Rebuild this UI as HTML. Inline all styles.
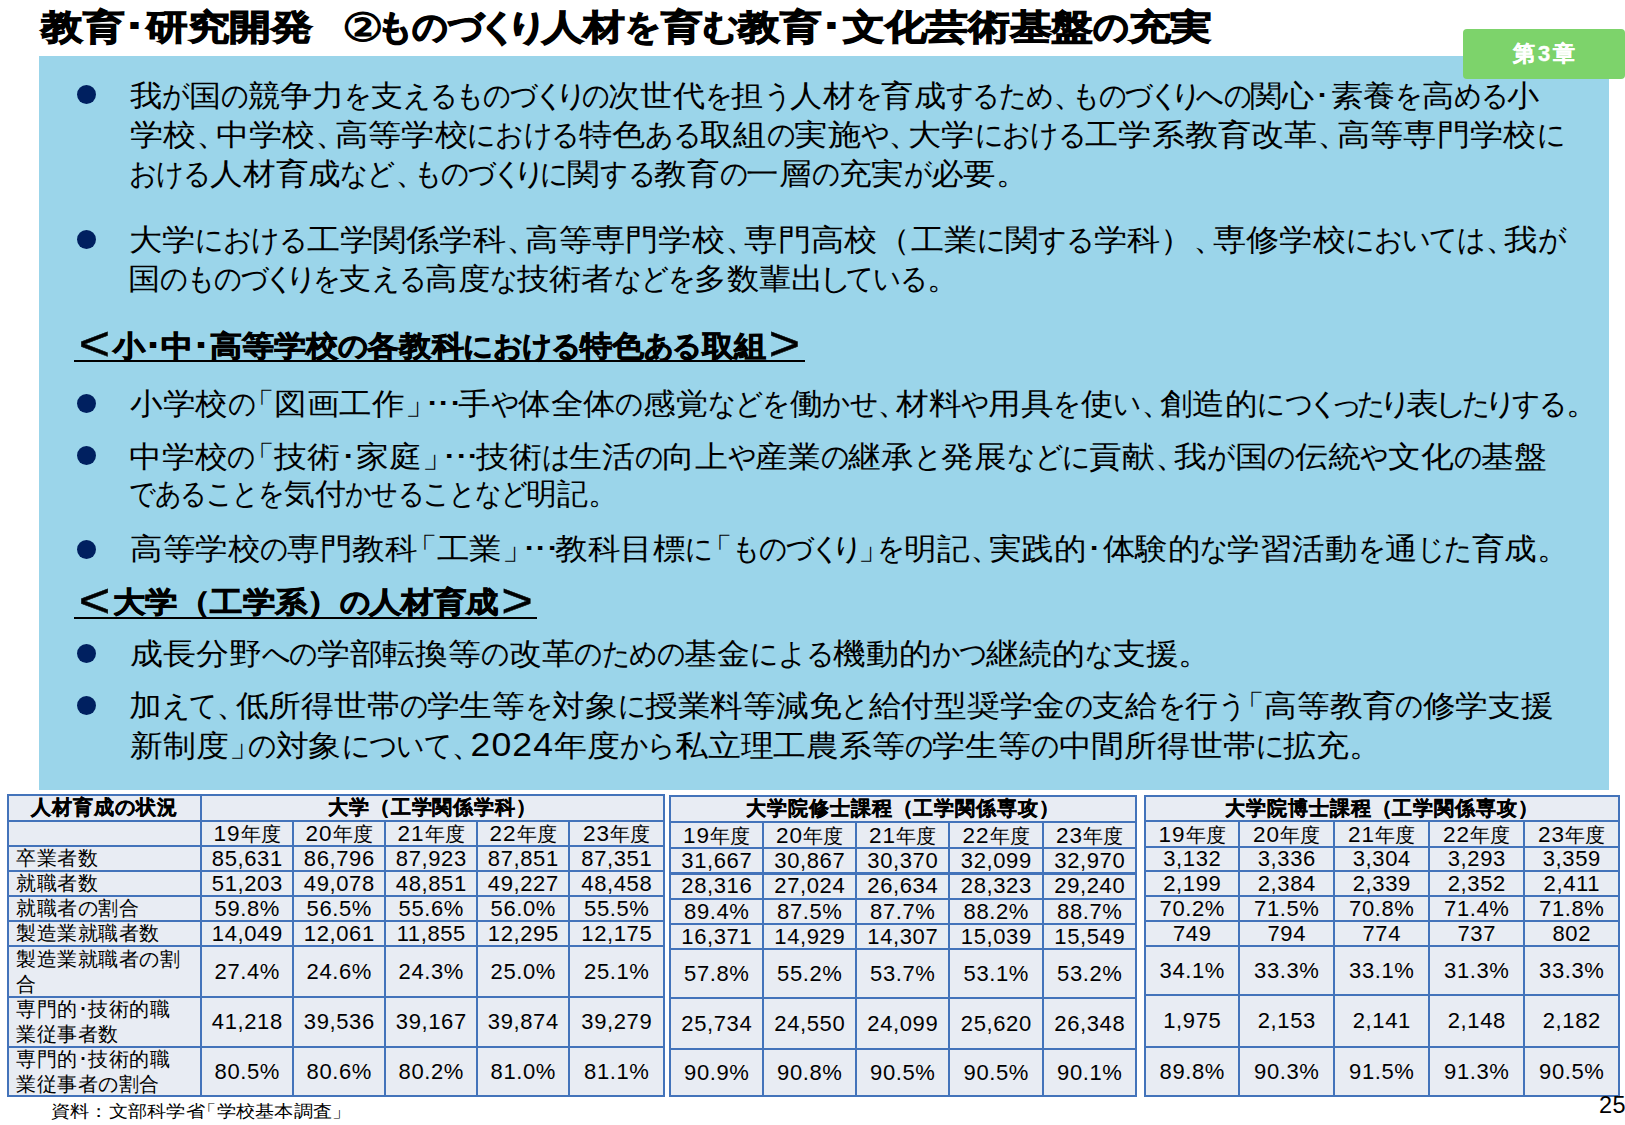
<!DOCTYPE html><html><head><meta charset="utf-8"><style>
*{margin:0;padding:0;box-sizing:border-box}
html,body{width:1625px;height:1125px;overflow:hidden;background:#fff}
body{position:relative;font-family:"Liberation Sans",sans-serif;color:#000}
.t{position:absolute;white-space:nowrap;transform-origin:0 0;line-height:1}
.box{position:absolute;left:39px;top:56px;width:1570px;height:734px;background:#9BD5EA}
.badge{position:absolute;left:1463px;top:29px;width:162px;height:50px;background:#7DD36B;border-radius:4px}
.dot{position:absolute;width:19px;height:19px;border-radius:50%;background:#002060}
.ul{position:absolute;height:2px;background:#000}
.hl{position:absolute;background:#4373BA}
.cell{position:absolute;background:#E8ECF3}
.c{position:absolute;display:flex;align-items:center;justify-content:center;white-space:nowrap;line-height:1}
.hd{font-weight:bold;font-size:19.5px;letter-spacing:0.9px;-webkit-text-stroke:0.4px #000}
.yd{font-weight:normal;font-size:22.5px;letter-spacing:1px}
.yr{font-size:19.5px}
.dt{font-size:22px;letter-spacing:0.6px;padding-left:0.6px}
.lb{position:absolute;display:flex;flex-direction:column;justify-content:center;font-size:20px;letter-spacing:0.5px;line-height:25px;white-space:nowrap}
.badge span{position:absolute;left:0;right:0;top:0;bottom:0;display:flex;align-items:center;justify-content:center;color:#fff;font-weight:bold;font-size:22px;letter-spacing:3px;padding-left:3px;-webkit-text-stroke:0.4px #fff}
i{font-style:normal;display:inline-block;transform-origin:0 50%}.k{width:0.850em;transform:scaleX(0.850)}.kn{width:0.700em;text-indent:-0.150em}.p,.bc{width:0.600em}.bo{width:0.600em;text-indent:-0.400em}.bold{font-weight:bold;-webkit-text-stroke:1.20px #000}.bold .cn{-webkit-text-stroke:0}.is{letter-spacing:-0.3em}.el{letter-spacing:-0.15em}#h1 .k,#h2 .k{width:0.92em;transform:scaleX(0.92)}.cn{margin-right:-0.15em;font-size:1.12em;vertical-align:-0.06em;line-height:0}.as{font-size:1.1em;letter-spacing:0.03em}.lt{font-size:1.7em;font-weight:normal;-webkit-text-stroke:0.5px #000;line-height:0;vertical-align:-0.1em;margin:0 0.05em}</style></head><body>
<div class="box"></div>
<div class="badge"><span>第3章</span></div>
<div class="dot" style="left:76.5px;top:85.3px"></div>
<div class="dot" style="left:76.5px;top:230.4px"></div>
<div class="dot" style="left:76.5px;top:394.4px"></div>
<div class="dot" style="left:76.5px;top:446.3px"></div>
<div class="dot" style="left:76.5px;top:539.5px"></div>
<div class="dot" style="left:76.5px;top:644.2px"></div>
<div class="dot" style="left:76.5px;top:696.0px"></div>
<div class="ul" style="left:74px;top:360.2px;width:731px"></div>
<div class="ul" style="left:74px;top:616.5px;width:463px"></div>
<div class="t bold" id="title" style="left:40.75px;top:9.00px;font-size:35.00px;transform:scaleX(1.1925);-webkit-text-stroke:1.10px #000">教育･研究開発<span class="is">　</span><span class="cn">②</span><i class="k">も</i><i class="k">の</i><i class="k">づ</i><i class="kn">く</i><i class="kn">り</i>人材<i class="k">を</i>育<i class="k">む</i>教育･文化芸術基盤<i class="k">の</i>充実</div>
<div class="t" id="l1" style="left:130.49px;top:81.20px;font-size:29.50px;transform:scaleX(1.0704)">我<i class="k">が</i>国<i class="k">の</i>競争力<i class="k">を</i>支<i class="k">え</i><i class="k">る</i><i class="k">も</i><i class="k">の</i><i class="k">づ</i><i class="kn">く</i><i class="kn">り</i><i class="k">の</i>次世代<i class="k">を</i>担<i class="k">う</i>人材<i class="k">を</i>育成<i class="k">す</i><i class="k">る</i><i class="k">た</i><i class="k">め</i><i class="p">、</i><i class="k">も</i><i class="k">の</i><i class="k">づ</i><i class="kn">く</i><i class="kn">り</i><i class="k">へ</i><i class="k">の</i>関心･素養<i class="k">を</i>高<i class="k">め</i><i class="k">る</i>小</div>
<div class="t" id="l2" style="left:130.40px;top:120.00px;font-size:29.50px;transform:scaleX(1.1058)">学校<i class="p">、</i>中学校<i class="p">、</i>高等学校<i class="k">に</i><i class="k">お</i><i class="k">け</i><i class="k">る</i>特色<i class="k">あ</i><i class="k">る</i>取組<i class="k">の</i>実施<i class="k">や</i><i class="p">、</i>大学<i class="k">に</i><i class="k">お</i><i class="k">け</i><i class="k">る</i>工学系教育改革<i class="p">、</i>高等専門学校<i class="k">に</i></div>
<div class="t" id="l3" style="left:129.38px;top:159.00px;font-size:29.50px;transform:scaleX(1.0837)"><i class="k">お</i><i class="k">け</i><i class="k">る</i>人材育成<i class="k">な</i><i class="k">ど</i><i class="p">、</i><i class="k">も</i><i class="k">の</i><i class="k">づ</i><i class="kn">く</i><i class="kn">り</i><i class="k">に</i>関<i class="k">す</i><i class="k">る</i>教育<i class="k">の</i>一層<i class="k">の</i>充実<i class="k">が</i>必要<i class="p">。</i></div>
<div class="t" id="l4" style="left:129.29px;top:225.30px;font-size:29.50px;transform:scaleX(1.1077)">大学<i class="k">に</i><i class="k">お</i><i class="k">け</i><i class="k">る</i>工学関係学科<i class="p">、</i>高等専門学校<i class="p">、</i>専門高校（工業<i class="k">に</i>関<i class="k">す</i><i class="k">る</i>学科）<i class="p">、</i>専修学校<i class="k">に</i><i class="k">お</i><i class="k">い</i><i class="k">て</i><i class="k">は</i><i class="p">、</i>我<i class="k">が</i></div>
<div class="t" id="l5" style="left:128.37px;top:264.00px;font-size:29.50px;transform:scaleX(1.0750)">国<i class="k">の</i><i class="k">も</i><i class="k">の</i><i class="k">づ</i><i class="kn">く</i><i class="kn">り</i><i class="k">を</i>支<i class="k">え</i><i class="k">る</i>高度<i class="k">な</i>技術者<i class="k">な</i><i class="k">ど</i><i class="k">を</i>多数輩出<i class="kn">し</i><i class="k">て</i><i class="k">い</i><i class="k">る</i><i class="p">。</i></div>
<div class="t bold" id="h1" style="left:75.51px;top:331.60px;font-size:28.50px;transform:scaleX(1.1065);-webkit-text-stroke:0.80px #000"><span class="lt">&lt;</span>小･中･高等学校<i class="k">の</i>各教科<i class="k">に</i><i class="k">お</i><i class="k">け</i><i class="k">る</i>特色<i class="k">あ</i><i class="k">る</i>取組<span class="lt">&gt;</span></div>
<div class="t" id="l7" style="left:130.45px;top:389.40px;font-size:29.50px;transform:scaleX(1.0861)">小学校<i class="k">の</i><i class="bo">「</i>図画工作<i class="bc">」</i><span class="el">･･･</span>手<i class="k">や</i>体全体<i class="k">の</i>感覚<i class="k">な</i><i class="k">ど</i><i class="k">を</i>働<i class="k">か</i><i class="k">せ</i><i class="p">、</i>材料<i class="k">や</i>用具<i class="k">を</i>使<i class="k">い</i><i class="p">、</i>創造的<i class="k">に</i><i class="k">つ</i><i class="kn">く</i><i class="kn">っ</i><i class="k">た</i><i class="kn">り</i>表<i class="kn">し</i><i class="k">た</i><i class="kn">り</i><i class="k">す</i><i class="k">る</i><i class="p">。</i></div>
<div class="t" id="l8" style="left:129.33px;top:442.20px;font-size:29.50px;transform:scaleX(1.0942)">中学校<i class="k">の</i><i class="bo">「</i>技術･家庭<i class="bc">」</i><span class="el">･･･</span>技術<i class="k">は</i>生活<i class="k">の</i>向上<i class="k">や</i>産業<i class="k">の</i>継承<i class="k">と</i>発展<i class="k">な</i><i class="k">ど</i><i class="k">に</i>貢献<i class="p">、</i>我<i class="k">が</i>国<i class="k">の</i>伝統<i class="k">や</i>文化<i class="k">の</i>基盤</div>
<div class="t" id="l9" style="left:129.44px;top:479.00px;font-size:29.50px;transform:scaleX(1.0295)"><i class="k">で</i><i class="k">あ</i><i class="k">る</i><i class="k">こ</i><i class="k">と</i><i class="k">を</i>気付<i class="k">か</i><i class="k">せ</i><i class="k">る</i><i class="k">こ</i><i class="k">と</i><i class="k">な</i><i class="k">ど</i>明記<i class="p">。</i></div>
<div class="t" id="l10" style="left:130.44px;top:534.30px;font-size:29.50px;transform:scaleX(1.0845)">高等学校<i class="k">の</i>専門教科<i class="bo">「</i>工業<i class="bc">」</i><span class="el">･･･</span>教科目標<i class="k">に</i><i class="bo">「</i><i class="k">も</i><i class="k">の</i><i class="k">づ</i><i class="kn">く</i><i class="kn">り</i><i class="bc">」</i><i class="k">を</i>明記<i class="p">、</i>実践的･体験的<i class="k">な</i>学習活動<i class="k">を</i>通<i class="k">じ</i><i class="k">た</i>育成<i class="p">。</i></div>
<div class="t bold" id="h2" style="left:75.56px;top:588.00px;font-size:28.50px;transform:scaleX(1.1166);-webkit-text-stroke:0.80px #000"><span class="lt">&lt;</span>大学（工学系）<i class="k">の</i>人材育成<span class="lt">&gt;</span></div>
<div class="t" id="l12" style="left:130.41px;top:639.30px;font-size:29.50px;transform:scaleX(1.0969)">成長分野<i class="k">へ</i><i class="k">の</i>学部転換等<i class="k">の</i>改革<i class="k">の</i><i class="k">た</i><i class="k">め</i><i class="k">の</i>基金<i class="k">に</i><i class="k">よ</i><i class="k">る</i>機動的<i class="k">か</i><i class="k">つ</i>継続的<i class="k">な</i>支援<i class="p">。</i></div>
<div class="t" id="l13" style="left:129.34px;top:691.00px;font-size:29.50px;transform:scaleX(1.0908)">加<i class="k">え</i><i class="k">て</i><i class="p">、</i>低所得世帯<i class="k">の</i>学生等<i class="k">を</i>対象<i class="k">に</i>授業料等減免<i class="k">と</i>給付型奨学金<i class="k">の</i>支給<i class="k">を</i>行<i class="k">う</i><i class="bo">「</i>高等教育<i class="k">の</i>修学支援</div>
<div class="t" id="l14" style="left:130.40px;top:728.60px;font-size:29.50px;transform:scaleX(1.0963)">新制度<i class="bc">」</i><i class="k">の</i>対象<i class="k">に</i><i class="k">つ</i><i class="k">い</i><i class="k">て</i><i class="p">、</i><span class="as">2</span><span class="as">0</span><span class="as">2</span><span class="as">4</span>年度<i class="k">か</i><i class="k">ら</i>私立理工農系等<i class="k">の</i>学生等<i class="k">の</i>中間所得世帯<i class="k">に</i>拡充<i class="p">。</i></div>
<div class="t" id="foot" style="left:50.72px;top:1102.80px;font-size:17.00px;transform:scaleX(1.1322)">資料：文部科学省<i class="bo">「</i>学校基本調査<i class="bc">」</i></div>
<div class="cell" style="left:7px;top:794px;width:658px;height:303px"></div>
<div class="hl" style="left:7px;top:794px;width:658px;height:2px"></div>
<div class="hl" style="left:7px;top:820px;width:658px;height:2px"></div>
<div class="hl" style="left:7px;top:845px;width:658px;height:2px"></div>
<div class="hl" style="left:7px;top:870px;width:658px;height:2px"></div>
<div class="hl" style="left:7px;top:895px;width:658px;height:2px"></div>
<div class="hl" style="left:7px;top:920px;width:658px;height:2px"></div>
<div class="hl" style="left:7px;top:945px;width:658px;height:2px"></div>
<div class="hl" style="left:7px;top:996px;width:658px;height:2px"></div>
<div class="hl" style="left:7px;top:1046px;width:658px;height:2px"></div>
<div class="hl" style="left:7px;top:1095px;width:658px;height:2px"></div>
<div class="hl" style="left:7px;top:794px;width:2px;height:303px"></div>
<div class="hl" style="left:200px;top:794px;width:2px;height:303px"></div>
<div class="hl" style="left:292px;top:820px;width:2px;height:277px"></div>
<div class="hl" style="left:384px;top:820px;width:2px;height:277px"></div>
<div class="hl" style="left:476px;top:820px;width:2px;height:277px"></div>
<div class="hl" style="left:568px;top:820px;width:2px;height:277px"></div>
<div class="hl" style="left:663px;top:794px;width:2px;height:303px"></div>
<div class="c hd" style="left:202px;top:796px;width:461px;height:24px">大学（工学関係学科）</div>
<div class="c hd" style="left:9px;top:796px;width:191px;height:24px">人材育成の状況</div>
<div class="c yr" style="left:202px;top:823px;width:90px;height:23px"><span><b class="yd">19</b>年度</span></div>
<div class="c yr" style="left:294px;top:823px;width:90px;height:23px"><span><b class="yd">20</b>年度</span></div>
<div class="c yr" style="left:386px;top:823px;width:90px;height:23px"><span><b class="yd">21</b>年度</span></div>
<div class="c yr" style="left:478px;top:823px;width:90px;height:23px"><span><b class="yd">22</b>年度</span></div>
<div class="c yr" style="left:570px;top:823px;width:93px;height:23px"><span><b class="yd">23</b>年度</span></div>
<div class="c dt" style="left:202px;top:847px;width:90px;height:23px"><span>85,631</span></div>
<div class="c dt" style="left:294px;top:847px;width:90px;height:23px"><span>86,796</span></div>
<div class="c dt" style="left:386px;top:847px;width:90px;height:23px"><span>87,923</span></div>
<div class="c dt" style="left:478px;top:847px;width:90px;height:23px"><span>87,851</span></div>
<div class="c dt" style="left:570px;top:847px;width:93px;height:23px"><span>87,351</span></div>
<div class="c dt" style="left:202px;top:872px;width:90px;height:23px"><span>51,203</span></div>
<div class="c dt" style="left:294px;top:872px;width:90px;height:23px"><span>49,078</span></div>
<div class="c dt" style="left:386px;top:872px;width:90px;height:23px"><span>48,851</span></div>
<div class="c dt" style="left:478px;top:872px;width:90px;height:23px"><span>49,227</span></div>
<div class="c dt" style="left:570px;top:872px;width:93px;height:23px"><span>48,458</span></div>
<div class="c dt" style="left:202px;top:897px;width:90px;height:23px"><span>59.8%</span></div>
<div class="c dt" style="left:294px;top:897px;width:90px;height:23px"><span>56.5%</span></div>
<div class="c dt" style="left:386px;top:897px;width:90px;height:23px"><span>55.6%</span></div>
<div class="c dt" style="left:478px;top:897px;width:90px;height:23px"><span>56.0%</span></div>
<div class="c dt" style="left:570px;top:897px;width:93px;height:23px"><span>55.5%</span></div>
<div class="c dt" style="left:202px;top:922px;width:90px;height:23px"><span>14,049</span></div>
<div class="c dt" style="left:294px;top:922px;width:90px;height:23px"><span>12,061</span></div>
<div class="c dt" style="left:386px;top:922px;width:90px;height:23px"><span>11,855</span></div>
<div class="c dt" style="left:478px;top:922px;width:90px;height:23px"><span>12,295</span></div>
<div class="c dt" style="left:570px;top:922px;width:93px;height:23px"><span>12,175</span></div>
<div class="c dt" style="left:202px;top:947px;width:90px;height:49px"><span>27.4%</span></div>
<div class="c dt" style="left:294px;top:947px;width:90px;height:49px"><span>24.6%</span></div>
<div class="c dt" style="left:386px;top:947px;width:90px;height:49px"><span>24.3%</span></div>
<div class="c dt" style="left:478px;top:947px;width:90px;height:49px"><span>25.0%</span></div>
<div class="c dt" style="left:570px;top:947px;width:93px;height:49px"><span>25.1%</span></div>
<div class="c dt" style="left:202px;top:998px;width:90px;height:48px"><span>41,218</span></div>
<div class="c dt" style="left:294px;top:998px;width:90px;height:48px"><span>39,536</span></div>
<div class="c dt" style="left:386px;top:998px;width:90px;height:48px"><span>39,167</span></div>
<div class="c dt" style="left:478px;top:998px;width:90px;height:48px"><span>39,874</span></div>
<div class="c dt" style="left:570px;top:998px;width:93px;height:48px"><span>39,279</span></div>
<div class="c dt" style="left:202px;top:1048px;width:90px;height:47px"><span>80.5%</span></div>
<div class="c dt" style="left:294px;top:1048px;width:90px;height:47px"><span>80.6%</span></div>
<div class="c dt" style="left:386px;top:1048px;width:90px;height:47px"><span>80.2%</span></div>
<div class="c dt" style="left:478px;top:1048px;width:90px;height:47px"><span>81.0%</span></div>
<div class="c dt" style="left:570px;top:1048px;width:93px;height:47px"><span>81.1%</span></div>
<div class="lb" style="left:16px;top:847px;height:23px">卒業者数</div>
<div class="lb" style="left:16px;top:872px;height:23px">就職者数</div>
<div class="lb" style="left:16px;top:897px;height:23px">就職者の割合</div>
<div class="lb" style="left:16px;top:922px;height:23px">製造業就職者数</div>
<div class="lb" style="left:16px;top:947px;height:49px">製造業就職者の割<br>合</div>
<div class="lb" style="left:16px;top:998px;height:48px">専門的･技術的職<br>業従事者数</div>
<div class="lb" style="left:16px;top:1048px;height:47px">専門的･技術的職<br>業従事者の割合</div>
<div class="cell" style="left:669px;top:795px;width:468px;height:302px"></div>
<div class="hl" style="left:669px;top:795px;width:468px;height:2px"></div>
<div class="hl" style="left:669px;top:821px;width:468px;height:2px"></div>
<div class="hl" style="left:669px;top:847px;width:468px;height:2px"></div>
<div class="hl" style="left:669px;top:872px;width:468px;height:3px"></div>
<div class="hl" style="left:669px;top:898px;width:468px;height:2px"></div>
<div class="hl" style="left:669px;top:923px;width:468px;height:2px"></div>
<div class="hl" style="left:669px;top:948px;width:468px;height:2px"></div>
<div class="hl" style="left:669px;top:997px;width:468px;height:2px"></div>
<div class="hl" style="left:669px;top:1048px;width:468px;height:2px"></div>
<div class="hl" style="left:669px;top:1095px;width:468px;height:2px"></div>
<div class="hl" style="left:669px;top:795px;width:2px;height:302px"></div>
<div class="hl" style="left:762px;top:821px;width:2px;height:276px"></div>
<div class="hl" style="left:855px;top:821px;width:2px;height:276px"></div>
<div class="hl" style="left:948px;top:821px;width:2px;height:276px"></div>
<div class="hl" style="left:1042px;top:821px;width:2px;height:276px"></div>
<div class="hl" style="left:1135px;top:795px;width:2px;height:302px"></div>
<div class="c hd" style="left:671px;top:797px;width:464px;height:24px">大学院修士課程（工学関係専攻）</div>
<div class="c yr" style="left:671px;top:824px;width:91px;height:24px"><span><b class="yd">19</b>年度</span></div>
<div class="c yr" style="left:764px;top:824px;width:91px;height:24px"><span><b class="yd">20</b>年度</span></div>
<div class="c yr" style="left:857px;top:824px;width:91px;height:24px"><span><b class="yd">21</b>年度</span></div>
<div class="c yr" style="left:950px;top:824px;width:92px;height:24px"><span><b class="yd">22</b>年度</span></div>
<div class="c yr" style="left:1044px;top:824px;width:91px;height:24px"><span><b class="yd">23</b>年度</span></div>
<div class="c dt" style="left:671px;top:849px;width:91px;height:23px"><span>31,667</span></div>
<div class="c dt" style="left:764px;top:849px;width:91px;height:23px"><span>30,867</span></div>
<div class="c dt" style="left:857px;top:849px;width:91px;height:23px"><span>30,370</span></div>
<div class="c dt" style="left:950px;top:849px;width:92px;height:23px"><span>32,099</span></div>
<div class="c dt" style="left:1044px;top:849px;width:91px;height:23px"><span>32,970</span></div>
<div class="c dt" style="left:671px;top:874px;width:91px;height:24px"><span>28,316</span></div>
<div class="c dt" style="left:764px;top:874px;width:91px;height:24px"><span>27,024</span></div>
<div class="c dt" style="left:857px;top:874px;width:91px;height:24px"><span>26,634</span></div>
<div class="c dt" style="left:950px;top:874px;width:92px;height:24px"><span>28,323</span></div>
<div class="c dt" style="left:1044px;top:874px;width:91px;height:24px"><span>29,240</span></div>
<div class="c dt" style="left:671px;top:900px;width:91px;height:23px"><span>89.4%</span></div>
<div class="c dt" style="left:764px;top:900px;width:91px;height:23px"><span>87.5%</span></div>
<div class="c dt" style="left:857px;top:900px;width:91px;height:23px"><span>87.7%</span></div>
<div class="c dt" style="left:950px;top:900px;width:92px;height:23px"><span>88.2%</span></div>
<div class="c dt" style="left:1044px;top:900px;width:91px;height:23px"><span>88.7%</span></div>
<div class="c dt" style="left:671px;top:925px;width:91px;height:23px"><span>16,371</span></div>
<div class="c dt" style="left:764px;top:925px;width:91px;height:23px"><span>14,929</span></div>
<div class="c dt" style="left:857px;top:925px;width:91px;height:23px"><span>14,307</span></div>
<div class="c dt" style="left:950px;top:925px;width:92px;height:23px"><span>15,039</span></div>
<div class="c dt" style="left:1044px;top:925px;width:91px;height:23px"><span>15,549</span></div>
<div class="c dt" style="left:671px;top:950px;width:91px;height:47px"><span>57.8%</span></div>
<div class="c dt" style="left:764px;top:950px;width:91px;height:47px"><span>55.2%</span></div>
<div class="c dt" style="left:857px;top:950px;width:91px;height:47px"><span>53.7%</span></div>
<div class="c dt" style="left:950px;top:950px;width:92px;height:47px"><span>53.1%</span></div>
<div class="c dt" style="left:1044px;top:950px;width:91px;height:47px"><span>53.2%</span></div>
<div class="c dt" style="left:671px;top:999px;width:91px;height:49px"><span>25,734</span></div>
<div class="c dt" style="left:764px;top:999px;width:91px;height:49px"><span>24,550</span></div>
<div class="c dt" style="left:857px;top:999px;width:91px;height:49px"><span>24,099</span></div>
<div class="c dt" style="left:950px;top:999px;width:92px;height:49px"><span>25,620</span></div>
<div class="c dt" style="left:1044px;top:999px;width:91px;height:49px"><span>26,348</span></div>
<div class="c dt" style="left:671px;top:1050px;width:91px;height:45px"><span>90.9%</span></div>
<div class="c dt" style="left:764px;top:1050px;width:91px;height:45px"><span>90.8%</span></div>
<div class="c dt" style="left:857px;top:1050px;width:91px;height:45px"><span>90.5%</span></div>
<div class="c dt" style="left:950px;top:1050px;width:92px;height:45px"><span>90.5%</span></div>
<div class="c dt" style="left:1044px;top:1050px;width:91px;height:45px"><span>90.1%</span></div>
<div class="cell" style="left:1144px;top:795px;width:476px;height:302px"></div>
<div class="hl" style="left:1144px;top:795px;width:476px;height:2px"></div>
<div class="hl" style="left:1144px;top:820px;width:476px;height:2px"></div>
<div class="hl" style="left:1144px;top:846px;width:476px;height:2px"></div>
<div class="hl" style="left:1144px;top:870px;width:476px;height:2px"></div>
<div class="hl" style="left:1144px;top:895px;width:476px;height:2px"></div>
<div class="hl" style="left:1144px;top:920px;width:476px;height:2px"></div>
<div class="hl" style="left:1144px;top:945px;width:476px;height:2px"></div>
<div class="hl" style="left:1144px;top:994px;width:476px;height:2px"></div>
<div class="hl" style="left:1144px;top:1046px;width:476px;height:2px"></div>
<div class="hl" style="left:1144px;top:1095px;width:476px;height:2px"></div>
<div class="hl" style="left:1144px;top:795px;width:2px;height:302px"></div>
<div class="hl" style="left:1238px;top:820px;width:2px;height:277px"></div>
<div class="hl" style="left:1333px;top:820px;width:2px;height:277px"></div>
<div class="hl" style="left:1428px;top:820px;width:2px;height:277px"></div>
<div class="hl" style="left:1523px;top:820px;width:2px;height:277px"></div>
<div class="hl" style="left:1618px;top:795px;width:2px;height:302px"></div>
<div class="c hd" style="left:1146px;top:797px;width:472px;height:23px">大学院博士課程（工学関係専攻）</div>
<div class="c yr" style="left:1146px;top:823px;width:92px;height:24px"><span><b class="yd">19</b>年度</span></div>
<div class="c yr" style="left:1240px;top:823px;width:93px;height:24px"><span><b class="yd">20</b>年度</span></div>
<div class="c yr" style="left:1335px;top:823px;width:93px;height:24px"><span><b class="yd">21</b>年度</span></div>
<div class="c yr" style="left:1430px;top:823px;width:93px;height:24px"><span><b class="yd">22</b>年度</span></div>
<div class="c yr" style="left:1525px;top:823px;width:93px;height:24px"><span><b class="yd">23</b>年度</span></div>
<div class="c dt" style="left:1146px;top:848px;width:92px;height:22px"><span>3,132</span></div>
<div class="c dt" style="left:1240px;top:848px;width:93px;height:22px"><span>3,336</span></div>
<div class="c dt" style="left:1335px;top:848px;width:93px;height:22px"><span>3,304</span></div>
<div class="c dt" style="left:1430px;top:848px;width:93px;height:22px"><span>3,293</span></div>
<div class="c dt" style="left:1525px;top:848px;width:93px;height:22px"><span>3,359</span></div>
<div class="c dt" style="left:1146px;top:872px;width:92px;height:23px"><span>2,199</span></div>
<div class="c dt" style="left:1240px;top:872px;width:93px;height:23px"><span>2,384</span></div>
<div class="c dt" style="left:1335px;top:872px;width:93px;height:23px"><span>2,339</span></div>
<div class="c dt" style="left:1430px;top:872px;width:93px;height:23px"><span>2,352</span></div>
<div class="c dt" style="left:1525px;top:872px;width:93px;height:23px"><span>2,411</span></div>
<div class="c dt" style="left:1146px;top:897px;width:92px;height:23px"><span>70.2%</span></div>
<div class="c dt" style="left:1240px;top:897px;width:93px;height:23px"><span>71.5%</span></div>
<div class="c dt" style="left:1335px;top:897px;width:93px;height:23px"><span>70.8%</span></div>
<div class="c dt" style="left:1430px;top:897px;width:93px;height:23px"><span>71.4%</span></div>
<div class="c dt" style="left:1525px;top:897px;width:93px;height:23px"><span>71.8%</span></div>
<div class="c dt" style="left:1146px;top:922px;width:92px;height:23px"><span>749</span></div>
<div class="c dt" style="left:1240px;top:922px;width:93px;height:23px"><span>794</span></div>
<div class="c dt" style="left:1335px;top:922px;width:93px;height:23px"><span>774</span></div>
<div class="c dt" style="left:1430px;top:922px;width:93px;height:23px"><span>737</span></div>
<div class="c dt" style="left:1525px;top:922px;width:93px;height:23px"><span>802</span></div>
<div class="c dt" style="left:1146px;top:947px;width:92px;height:47px"><span>34.1%</span></div>
<div class="c dt" style="left:1240px;top:947px;width:93px;height:47px"><span>33.3%</span></div>
<div class="c dt" style="left:1335px;top:947px;width:93px;height:47px"><span>33.1%</span></div>
<div class="c dt" style="left:1430px;top:947px;width:93px;height:47px"><span>31.3%</span></div>
<div class="c dt" style="left:1525px;top:947px;width:93px;height:47px"><span>33.3%</span></div>
<div class="c dt" style="left:1146px;top:996px;width:92px;height:50px"><span>1,975</span></div>
<div class="c dt" style="left:1240px;top:996px;width:93px;height:50px"><span>2,153</span></div>
<div class="c dt" style="left:1335px;top:996px;width:93px;height:50px"><span>2,141</span></div>
<div class="c dt" style="left:1430px;top:996px;width:93px;height:50px"><span>2,148</span></div>
<div class="c dt" style="left:1525px;top:996px;width:93px;height:50px"><span>2,182</span></div>
<div class="c dt" style="left:1146px;top:1048px;width:92px;height:47px"><span>89.8%</span></div>
<div class="c dt" style="left:1240px;top:1048px;width:93px;height:47px"><span>90.3%</span></div>
<div class="c dt" style="left:1335px;top:1048px;width:93px;height:47px"><span>91.5%</span></div>
<div class="c dt" style="left:1430px;top:1048px;width:93px;height:47px"><span>91.3%</span></div>
<div class="c dt" style="left:1525px;top:1048px;width:93px;height:47px"><span>90.5%</span></div>
<div class="t" style="left:1599px;top:1093.5px;font-size:23.5px;letter-spacing:0.5px">25</div>
</body></html>
